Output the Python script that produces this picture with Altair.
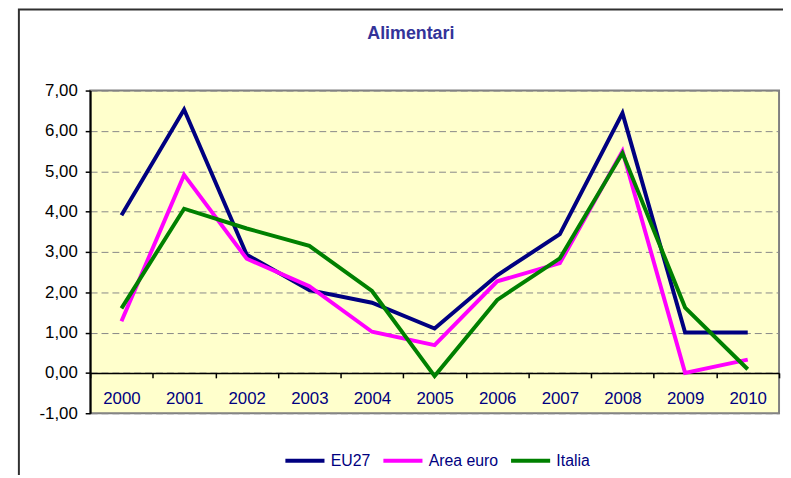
import altair as alt
import pandas as pd

years = ["2000", "2001", "2002", "2003", "2004", "2005", "2006", "2007", "2008", "2009", "2010"]
series_names = ["EU27", "Area euro", "Italia"]
eu27 = [3.91, 6.53, 2.93, 2.05, 1.74, 1.10, 2.42, 3.44, 6.44, 1.00, 1.00]
area_euro = [1.28, 4.91, 2.83, 2.15, 1.02, 0.69, 2.27, 2.72, 5.50, 0.00, 0.33]
italia = [1.60, 4.07, 3.58, 3.15, 2.03, -0.08, 1.81, 2.84, 5.45, 1.62, 0.09]
colors = ["#000080", "#FF00FF", "#008000"]
y_ticks = [-1, 0, 1, 2, 3, 4, 5, 6, 7]

rows = []
for name, vals in zip(series_names, [eu27, area_euro, italia]):
    for yr, v in zip(years, vals):
        rows.append({"Anno": yr, "Serie": name, "Valore": v})
df = pd.DataFrame(rows)

FONT = "Liberation Sans"
W, H = 696, 326

border = alt.Chart(pd.DataFrame({"a": [0]})).mark_rect(
    fillOpacity=0, stroke="#303030", strokeWidth=2
).encode(
    x=alt.value(-72), x2=alt.value(900), y=alt.value(-82), y2=alt.value(700)
)

title = alt.Chart(pd.DataFrame({"t": ["Alimentari"]})).mark_text(
    font=FONT, fontSize=18, fontWeight="bold", color="#333399", baseline="middle", align="center"
).encode(
    x=alt.value(324), y=alt.value(-57), text="t:N"
)

lines = alt.Chart(df).mark_line(strokeWidth=4, strokeJoin="miter", strokeCap="butt").encode(
    x=alt.X(
        "Anno:N", sort=years, bandPosition=0.5,
        scale=alt.Scale(type="band", paddingInner=0, paddingOuter=0),
        axis=alt.Axis(
            title=None, offset=-40.75, tickBand="extent", labelAngle=0,
            domainColor="#000000", domainWidth=1.5, tickColor="#000000", tickWidth=1.5, tickSize=5,
            labelFont=FONT, labelFontSize=17, labelColor="#000080", labelPadding=13, grid=False,
        ),
    ),
    y=alt.Y(
        "Valore:Q",
        scale=alt.Scale(domain=[-1, 7], nice=False, zero=False),
        axis=alt.Axis(
            title=None, values=y_ticks,
            labelExpr="(datum.value < 0 ? '-' : '') + replace(format(abs(datum.value), '.2f'), '.', ',')",
            domainColor="#000000", domainWidth=2, tickColor="#000000", tickWidth=1.5, tickSize=5,
            labelFont=FONT, labelFontSize=17, labelColor="#000000", labelPadding=8,
            grid=True, gridColor="#888888", gridDash=[7, 4], gridWidth=1,
        ),
    ),
    color=alt.Color(
        "Serie:N", sort=series_names,
        scale=alt.Scale(domain=series_names, range=colors),
        legend=alt.Legend(
            title=None, orient="none", legendX=195, legendY=352, direction="horizontal",
            symbolType="stroke", symbolSize=1560, symbolStrokeWidth=4,
            labelFont=FONT, labelFontSize=16, labelColor="#000080",
            columnPadding=4, labelOffset=4, padding=0,
        ),
    ),
    order=alt.Order("Serie:N"),
)

chart = alt.layer(border, lines, title).properties(
    width=W, height=H,
    autosize=alt.AutoSizeParams(type="none"),
    padding={"left": 83, "top": 81, "right": 4, "bottom": 60},
    background="#FFFFFF",
).configure_view(
    fill="#FFFFCC", stroke="#808080", strokeWidth=2
)

chart.save("out.html", embed_options={"renderer": "svg", "actions": False})
